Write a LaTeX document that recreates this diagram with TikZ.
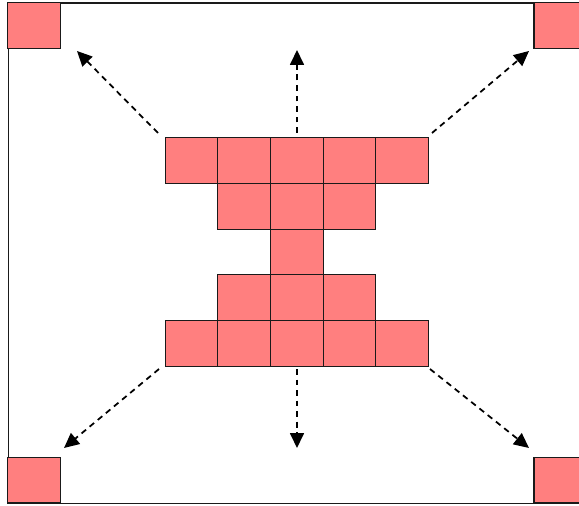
\documentclass[tikz,border=0pt]{standalone}
\usetikzlibrary{arrows.meta}
\definecolor{ink}{HTML}{1A1A1A}
\definecolor{cellfill}{HTML}{FF7F7F}

\begin{document}
\begin{tikzpicture}[
  x=0.03cm,
  y=-0.03cm,
  cell/.style={
    draw=ink,
    line width=0.9pt,
    fill=cellfill,
    inner sep=0pt,
    outer sep=0pt,
    minimum width=1.578cm,
    minimum height=1.374cm
  },
  frame/.style={draw=ink, line width=0.9pt},
  spread/.style={
    -{Triangle[length=0.45cm, width=0.42cm]},
    line width=1.5pt,
    draw=black,
    dash pattern=on 5pt off 4pt
  }
]

\useasboundingbox (0,0) rectangle (579,506);
\clip (0,0) rectangle (579,506);

% Outer frame
\node[frame, inner sep=0pt, minimum width=17.385cm, minimum height=15.015cm, anchor=north west] (frame) at (7.5,2.5) {};

% Corner squares
\node[cell] (tl) at (33.8,25.4) {};
\node[cell] (tr) at (560.3,25.4) {};
\node[cell] (bl) at (33.8,480.1) {};
\node[cell] (br) at (560.3,480.1) {};

% Top row
\node[cell] (t1) at (191.6,160.4) {};
\node[cell] (t2) at (244.2,160.4) {};
\node[cell] (t3) at (296.8,160.4) {};
\node[cell] (t4) at (349.4,160.4) {};
\node[cell] (t5) at (402.0,160.4) {};

% Upper middle row
\node[cell] (u1) at (244.2,206.2) {};
\node[cell] (u2) at (296.8,206.2) {};
\node[cell] (u3) at (349.4,206.2) {};

% Waist
\node[cell] (waist) at (296.8,252.0) {};

% Lower middle row
\node[cell] (l1) at (244.2,297.8) {};
\node[cell] (l2) at (296.8,297.8) {};
\node[cell] (l3) at (349.4,297.8) {};

% Bottom row
\node[cell] (b1) at (191.6,343.6) {};
\node[cell] (b2) at (244.2,343.6) {};
\node[cell] (b3) at (296.8,343.6) {};
\node[cell] (b4) at (349.4,343.6) {};
\node[cell] (b5) at (402.0,343.6) {};

% Arrow ends
\coordinate (tlfrom) at (158,133);
\coordinate (tlto) at (77,51);
\coordinate (tcfrom) at (297,133);
\coordinate (tcto) at (297,50);
\coordinate (trfrom) at (432,133);
\coordinate (trto) at (529,51);
\coordinate (blfrom) at (159,369);
\coordinate (blto) at (64,448);
\coordinate (bcfrom) at (297,369);
\coordinate (bcto) at (297,448);
\coordinate (brfrom) at (430,369);
\coordinate (brto) at (529,448);

\draw[spread] (tlfrom) -- (tlto);
\draw[spread] (tcfrom) -- (tcto);
\draw[spread] (trfrom) -- (trto);
\draw[spread] (blfrom) -- (blto);
\draw[spread] (bcfrom) -- (bcto);
\draw[spread] (brfrom) -- (brto);

\end{tikzpicture}
\end{document}
